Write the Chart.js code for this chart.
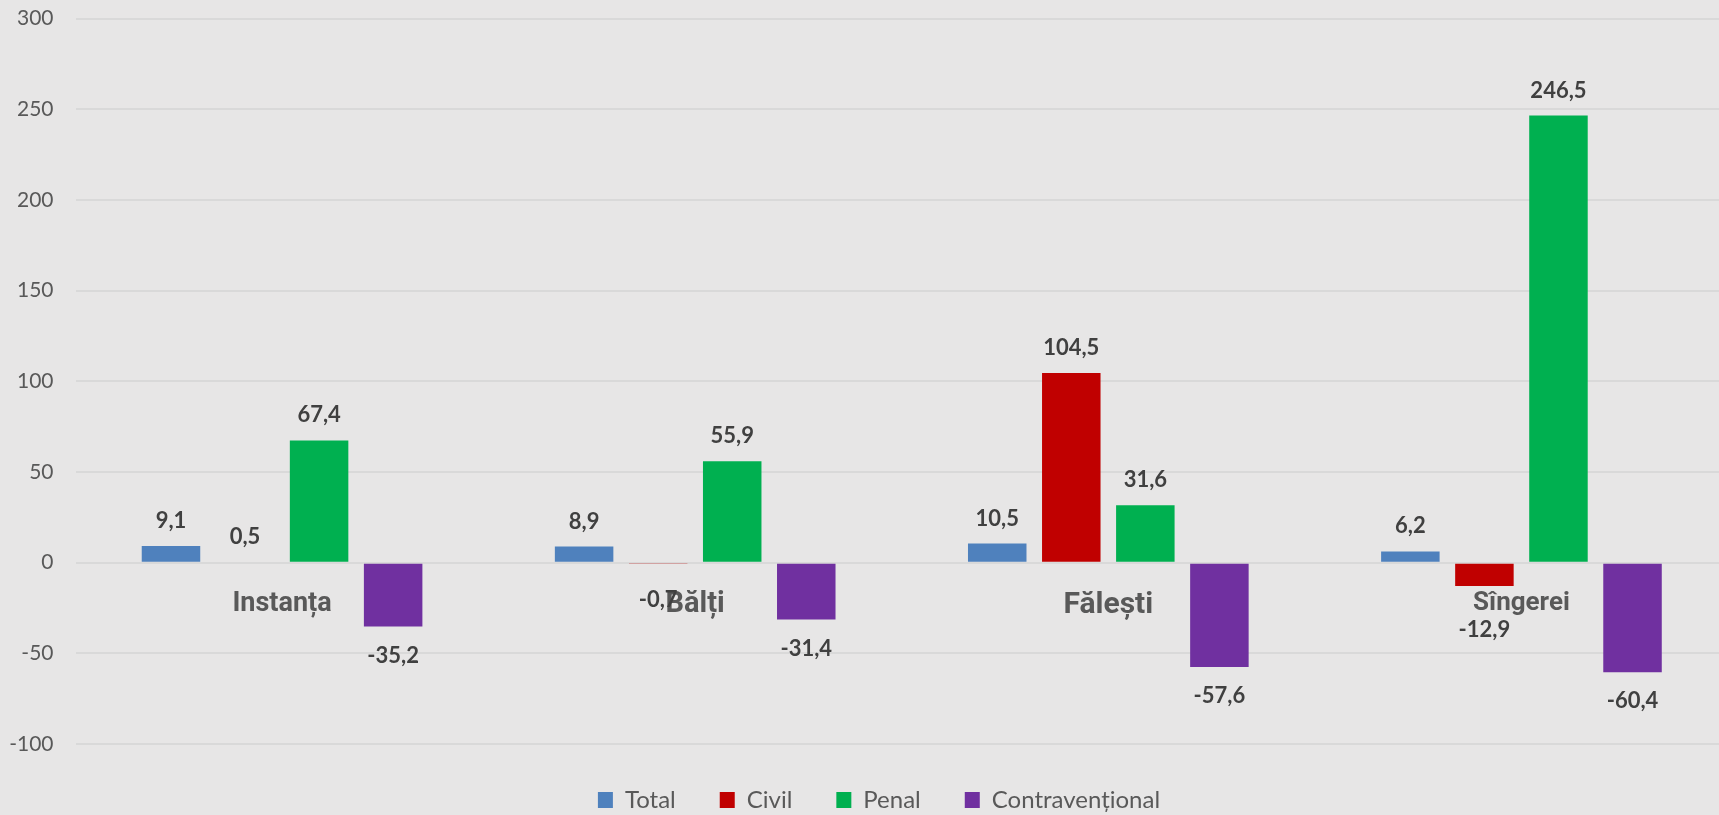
<!DOCTYPE html>
<html>
<head>
<meta charset="utf-8">
<script src="https://cdn.jsdelivr.net/npm/chart.js@4/dist/chart.umd.min.js"></script>
<style>
  html, body { margin: 0; padding: 0; background: #e7e6e6; overflow: hidden; }
  canvas { display: block; }
</style>
</head>
<body>
<canvas id="bar-chart" width="1728" height="822"></canvas>
<script>
// data
const instante = ['Instanța', 'Bălți', 'Fălești', 'Sîngerei'];
const total = [9.1, 8.9, 10.5, 6.2];
const civil = [0.5, -0.7, 104.5, -12.9];
const penal = [67.4, 55.9, 31.6, 246.5];
const contraventional = [-35.2, -31.4, -57.6, -60.4];
const yMin = -100, yMax = 300, yStep = 50;

// category labels are not all the same size in the original
const catFontSizes = [27, 29, 30, 26];
// a couple of value labels were pushed down by hand in the original
const labelNudge = { '1-1': 7, '1-3': 15 };

function fmt(v) {
  return v.toFixed(1).replace('.', ',');
}

const valueLabels = {
  id: 'valueLabels',
  afterDatasetsDraw(chart) {
    const ctx = chart.ctx;
    ctx.save();
    ctx.font = 'bold 22px Lato';
    ctx.fillStyle = '#404040';
    ctx.textAlign = 'center';
    ctx.textBaseline = 'middle';
    chart.data.datasets.forEach(function(ds, i) {
      chart.getDatasetMeta(i).data.forEach(function(bar, j) {
        const v = ds.data[j];
        let y = v >= 0 ? bar.y - 25 : bar.y + 29;
        y += labelNudge[i + '-' + j] || 0;
        ctx.fillText(fmt(v), bar.x, y);
      });
    });
    ctx.restore();
  }
};

// legend sits a little right of the canvas centre in the original
const legendShift = {
  id: 'legendShift',
  afterLayout(chart) {
    chart.legend.left += 21;
  }
};

new Chart(document.getElementById('bar-chart'), {
  type: 'bar',
  data: {
    labels: instante,
    datasets: [{
        label: 'Total',
        data: total,
        backgroundColor: '#4f81bd'
      }, {
        label: 'Civil',
        data: civil,
        backgroundColor: '#c00000'
      }, {
        label: 'Penal',
        data: penal,
        backgroundColor: '#00b050'
      }, {
        label: 'Contravențional',
        data: contraventional,
        backgroundColor: '#7030a0'
      }
    ]
  },
  options: {
    responsive: false,
    animation: false,
    categoryPercentage: 0.717,
    barPercentage: 0.79,
    layout: { padding: { top: 18.5, left: 9, right: 0, bottom: 0 } },
    scales: {
      x: {
        position: { y: 0 },
        offset: true,
        z: 1,
        grid: { display: false, drawTicks: false },
        border: { display: false },
        ticks: {
          autoSkip: false,
          maxRotation: 0,
          padding: 25,
          color: '#595959',
          font: function(ctx) {
            return { family: 'Roboto', weight: 'bold', size: catFontSizes[ctx.index] || 27 };
          }
        }
      },
      y: {
        min: yMin,
        max: yMax,
        grid: { color: '#d9d9d9', lineWidth: 2, drawTicks: false },
        border: { display: false },
        ticks: {
          stepSize: yStep,
          padding: 22,
          color: '#595959',
          font: { family: 'Lato', size: 21 }
        },
        afterFit: function(scale) {
          scale.width = 66.5;
          scale.paddingTop = 0;
          scale.paddingBottom = 0;
        }
      }
    },
    plugins: {
      legend: {
        position: 'bottom',
        labels: {
          boxWidth: 15,
          boxHeight: 16,
          padding: 44,
          color: '#595959',
          font: { family: 'Lato', size: 24 }
        }
      },
      tooltip: { enabled: false }
    }
  },
  plugins: [valueLabels, legendShift]
});
</script>
</body>
</html>
